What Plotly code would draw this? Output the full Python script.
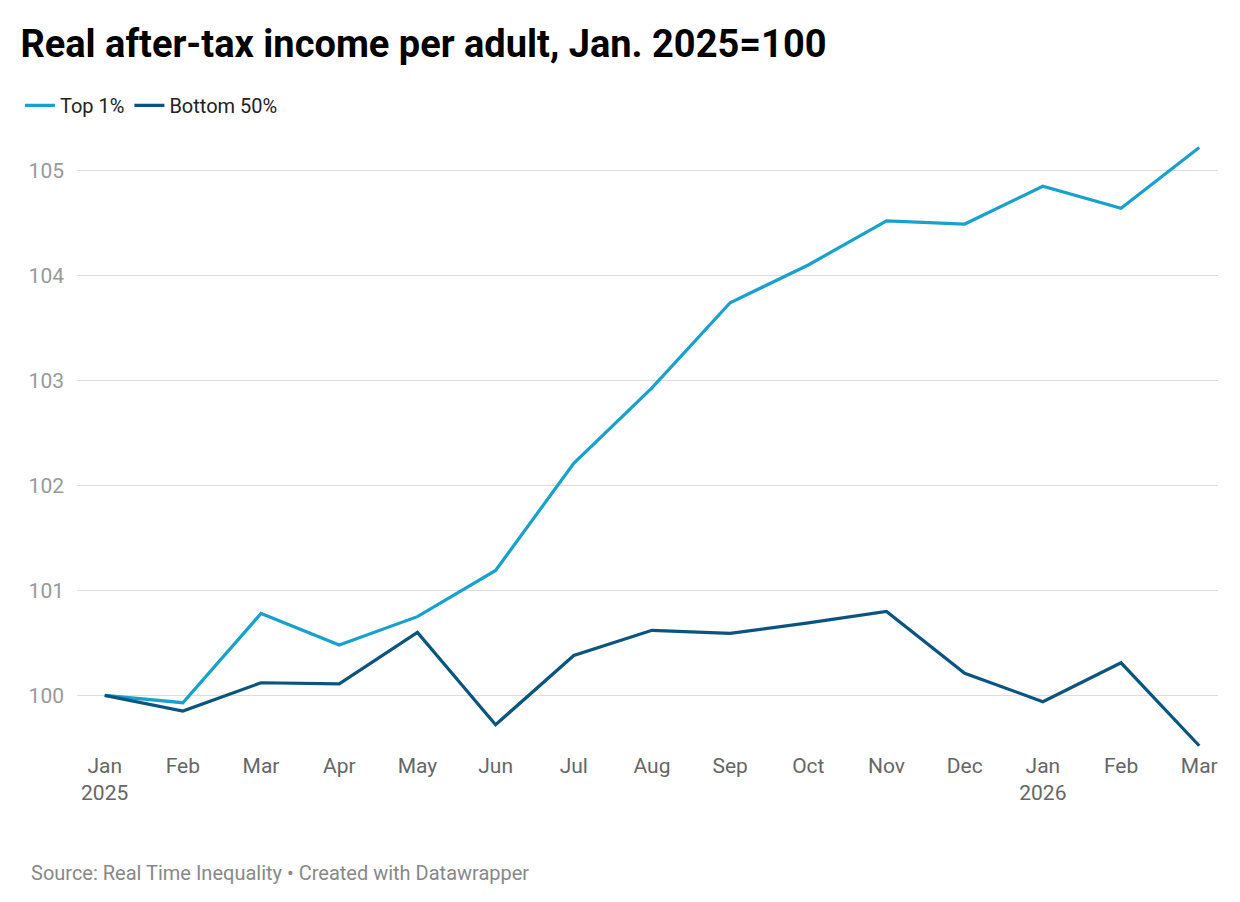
import plotly.graph_objects as go

months = ["Jan<br>2025", "Feb", "Mar", "Apr", "May", "Jun", "Jul", "Aug", "Sep",
          "Oct", "Nov", "Dec", "Jan<br>2026", "Feb", "Mar"]
top1 = [100, 99.93, 100.78, 100.48, 100.75, 101.19, 102.21, 102.93, 103.74,
        104.10, 104.52, 104.49, 104.85, 104.64, 105.22]
bottom50 = [100, 99.85, 100.12, 100.11, 100.60, 99.72, 100.38, 100.62, 100.59,
            100.69, 100.80, 100.21, 99.94, 100.31, 99.52]

x = list(range(len(months)))
fig = go.Figure()
fig.add_trace(go.Scatter(x=x, y=top1, name="Top 1%", mode="lines",
                         line=dict(color="#18a1cd", width=3.2)))
fig.add_trace(go.Scatter(x=x, y=bottom50, name="Bottom 50%", mode="lines",
                         line=dict(color="#09557f", width=3.2)))

fig.update_layout(
    width=1240, height=902,
    plot_bgcolor="white", paper_bgcolor="white",
    font=dict(family="Roboto", color="#333"),
    margin=dict(l=57, r=30, t=131, b=159),
    title=dict(text="<b>Real after-tax income per adult, Jan. 2025=100</b>",
               x=0.01, xanchor="left", y=0.975, yanchor="top",
               font=dict(size=38, color="#000")),
    legend=dict(orientation="h", x=-0.05, xanchor="left", y=1.055, yanchor="middle",
                font=dict(size=20, color="#222"), itemwidth=30),
    xaxis=dict(range=[-0.354, 14.24], tickmode="array", tickvals=x, ticktext=months,
               showgrid=False, zeroline=False, tickfont=dict(size=21, color="#666"),
               ticks=""),
    yaxis=dict(range=[99.47, 105.3], tickvals=[100, 101, 102, 103, 104, 105],
               gridcolor="#dddddd", zeroline=False, tickfont=dict(size=21, color="#999"),
               ticklabelstandoff=12),
    annotations=[dict(text="Source: Real Time Inequality • Created with Datawrapper",
                      xref="paper", yref="paper", x=-0.042, y=-0.20,
                      xanchor="left", yanchor="middle", showarrow=False,
                      font=dict(size=20, color="#888"))],
)

fig.write_html("out.html")
